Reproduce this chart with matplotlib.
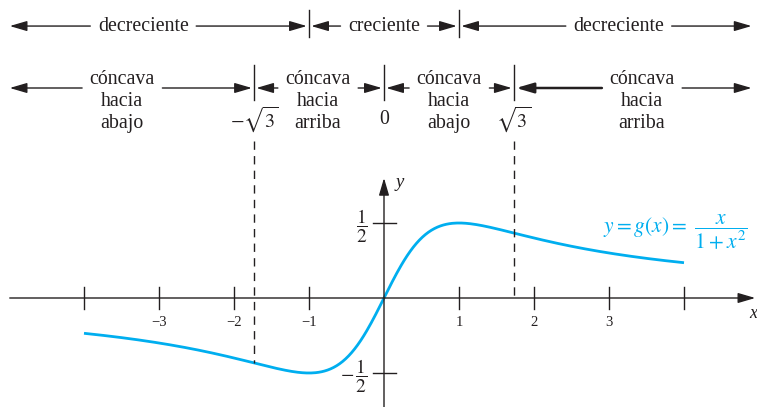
import numpy as np
import matplotlib
matplotlib.use("Agg")
import matplotlib.pyplot as plt

plt.rcParams['font.family'] = ['Liberation Serif', 'DejaVu Serif']
plt.rcParams['mathtext.fontset'] = 'stix'

# function and interval data
x_min, x_max = -4, 4
x_ticks = [-4, -3, -2, -1, 1, 2, 3, 4]
x_tick_labels = ['', '\u22123', '\u22122', '\u22121', '1', '2', '3', '']
y_ticks = [0.5, -0.5]
y_tick_labels = [r'$\dfrac{1}{2}$', r'$-\,\dfrac{1}{2}$']
r3 = np.sqrt(3)

# monotonicity row: boundaries and labels
mono_bounds = [-1, 1]
mono_labels = ['decreciente', 'creciente', 'decreciente']
mono_centers = [-3.21, 0.0, 3.13]

# concavity row: boundaries and labels
conc_bounds = [-r3, 0, r3]
conc_bound_labels = [r'$-\sqrt{3}$', '0', r'$\sqrt{3}$']
conc_labels = ['cóncava\nhacia\nabajo', 'cóncava\nhacia\narriba',
               'cóncava\nhacia\nabajo', 'cóncava\nhacia\narriba']
conc_centers = [-3.49, -0.88, 0.87, 3.44]


def g(x):
    return x / (1 + x ** 2)


ink = '#231f20'
cyan = '#00aeef'

fig = plt.figure(figsize=(7.57, 4.07), dpi=100)
ax = fig.add_axes([0, 0, 1, 1])
ax.set_xlim(-384 / 75, (757 - 384) / 75)
ax.set_ylim((298 - 407) / 150, 298 / 150)
ax.axis('off')

arrow_kw = dict(arrowstyle='-|>,head_length=0.75,head_width=0.22', color=ink,
                lw=1.0, mutation_scale=14, shrinkA=0, shrinkB=0)


def arrow(tail, tip, y, lw=1.0):
    kw = dict(arrow_kw)
    kw['lw'] = lw
    ax.annotate('', xy=(tip, y), xytext=(tail, y), arrowprops=kw)


# axes with arrow heads
ax.annotate('', xy=(4.95, 0), xytext=(-4.99, 0), arrowprops=arrow_kw)
ax.annotate('', xy=(0, 0.80), xytext=(0, -0.73), arrowprops=arrow_kw)
ax.text(4.97, -0.105, 'x', style='italic', fontsize=13, color=ink,
        ha='right', va='center')
ax.text(0.16, 0.77, 'y', style='italic', fontsize=13.5, color=ink,
        ha='left', va='center')

# x ticks
for xt, lab in zip(x_ticks, x_tick_labels):
    ax.plot([xt, xt], [-0.075, 0.075], color=ink, lw=1.0)
    ax.text(xt, -0.165, lab, fontsize=10.5, color=ink, ha='center', va='center')

# y ticks
for yt, lab in zip(y_ticks, y_tick_labels):
    ax.plot([-0.15, 0.16], [yt, yt], color=ink, lw=1.0)
    ax.text(-0.22, yt - 0.02, lab, fontsize=14, color=ink, ha='right',
            va='center')

# curve
xs = np.linspace(x_min, x_max, 400)
ax.plot(xs, g(xs), color=cyan, lw=2.0, solid_capstyle='butt')
ax.text(3.88, 0.435, r'$y = g(x) =\ \dfrac{x}{1 + x^2}$', fontsize=15.5,
        color=cyan, ha='center', va='center')

# inflection guide lines
for xb in [-r3, r3]:
    ax.plot([xb, xb], [1.05, min(g(xb), 0)], color=ink, lw=1.0,
            dashes=(6, 4.5))

fig.canvas.draw()
renderer = fig.canvas.get_renderer()
inv = ax.transData.inverted()


def span(t, pad):
    bb = t.get_window_extent(renderer)
    left = inv.transform((bb.x0, bb.y0))[0]
    right = inv.transform((bb.x1, bb.y1))[0]
    return left - pad, right + pad


# monotonicity row
y_m = 1.813
edges = [-4.99] + mono_bounds + [4.90]
for xb in mono_bounds:
    ax.plot([xb, xb], [1.74, 1.92], color=ink, lw=1.0)
for i, (lab, xc) in enumerate(zip(mono_labels, mono_centers)):
    t = ax.text(xc, y_m, lab, fontsize=14.3, color=ink, ha='center', va='center')
    l, r = span(t, 0.1)
    lo = edges[i] + (0.03 if i > 0 else 0)
    hi = edges[i + 1] - (0.03 if i < len(mono_labels) - 1 else 0)
    arrow(l, lo, y_m)
    arrow(r, hi, y_m)

# concavity row
y_c = 1.40
edges = [-4.99] + conc_bounds + [4.90]
for xb, lab in zip(conc_bounds, conc_bound_labels):
    ax.plot([xb, xb], [1.32, 1.553], color=ink, lw=1.0)
    ax.text(xb, 1.19, lab, fontsize=14.3, color=ink, ha='center', va='center')
for i, (lab, xc) in enumerate(zip(conc_labels, conc_centers)):
    t = ax.text(xc, 1.31, lab, fontsize=14.3, color=ink, ha='center',
                va='center', linespacing=1.2)
    l, r = span(t, 0.1)
    lo = edges[i] + (0.03 if i > 0 else 0)
    hi = edges[i + 1] - (0.03 if i < len(conc_labels) - 1 else 0)
    arrow(l, lo, y_c, lw=1.8 if i == 3 else 1.0)
    arrow(r, hi, y_c)

fig.savefig('out.png', dpi=100)
